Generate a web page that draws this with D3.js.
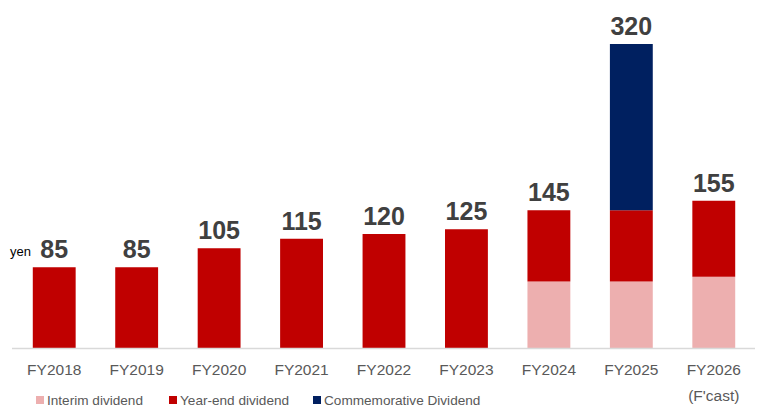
<!DOCTYPE html>
<html><head><meta charset="utf-8">
<script src="https://cdn.jsdelivr.net/npm/d3@7"></script>
<style>body{margin:0;background:#fff}svg{display:block}</style>
</head><body>
<svg id="c" width="765" height="411"></svg>
<script>
const categories = ["FY2018","FY2019","FY2020","FY2021","FY2022","FY2023","FY2024","FY2025","FY2026"];
const subLabels = ["","","","","","","","","(F'cast)"];
const interim = [0,0,0,0,0,0,70,70,75];
const yearEnd = [85,85,105,115,120,125,75,75,80];
const commemorative = [0,0,0,0,0,0,0,175,0];
const seriesNames = ["Interim dividend","Year-end dividend","Commemorative Dividend"];
const colors = ["#EDAFAF","#C00000","#002060"];

const rows = categories.map((c,i)=>({cat:c, interim:interim[i], yearEnd:yearEnd[i], comm:commemorative[i]}));
const keys = ["interim","yearEnd","comm"];
const stack = d3.stack().keys(keys)(rows);

const svg = d3.select("#c");
const x = d3.scaleBand().domain(categories).range([13,755]).paddingInner(0.48).paddingOuter(0.24);
const y = d3.scaleLinear().domain([0,320]).range([348,44]);

svg.append("g").selectAll("g").data(stack).join("g")
  .attr("fill",(d,i)=>colors[i])
  .selectAll("rect").data(d=>d).join("rect")
  .attr("x",d=>x(d.data.cat)).attr("width",x.bandwidth())
  .attr("y",d=>y(d[1])).attr("height",d=>y(d[0])-y(d[1]));

const axis = d3.axisBottom(x).tickSize(0).tickPadding(0);
const ag = svg.append("g").attr("transform","translate(0,348)").call(axis);
ag.select(".domain").attr("stroke","#d9d9d9").attr("stroke-width",1.3).attr("d","M12,0.5H755");
ag.selectAll(".tick text").remove();
ag.selectAll(".tick").each(function(d,i){
  const t = d3.select(this).append("text").attr("fill","#595959")
    .attr("font-family","Liberation Sans, Arial, sans-serif").attr("font-size",15.5)
    .attr("text-anchor","middle");
  t.append("tspan").attr("x",0).attr("y",27).text(d);
  if (subLabels[i]) t.append("tspan").attr("x",0).attr("y",53).text(subLabels[i]);
});

svg.append("g").selectAll("text").data(rows).join("text")
  .attr("x",d=>x(d.cat)+x.bandwidth()/2)
  .attr("y",d=>y(d.interim+d.yearEnd+d.comm)-9)
  .attr("text-anchor","middle").attr("fill","#404040")
  .attr("font-family","Liberation Sans, Arial, sans-serif").attr("font-weight","bold").attr("font-size",25)
  .text(d=>d.interim+d.yearEnd+d.comm);

svg.append("text").attr("x",10).attr("y",256).attr("font-family","Liberation Sans, Arial, sans-serif")
  .attr("font-size",13).attr("fill","#000").text("yen");

const legendX = [36,169,313];
const lg = svg.append("g").selectAll("g").data(seriesNames).join("g")
  .attr("transform",(d,i)=>`translate(${legendX[i]},396)`);
lg.append("rect").attr("width",8).attr("height",8).attr("fill",(d,i)=>colors[i]);
lg.append("text").attr("x",11).attr("y",8.5).attr("fill","#595959")
  .attr("font-family","Liberation Sans, Arial, sans-serif").attr("font-size",13.6).text(d=>d);
</script>
</body></html>
